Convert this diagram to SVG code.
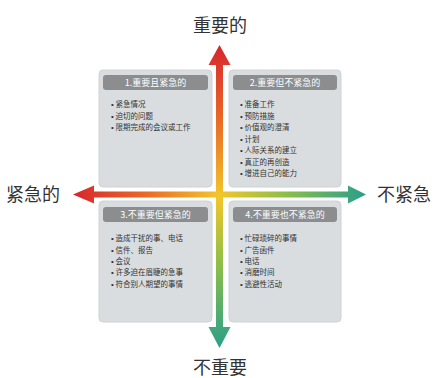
<svg xmlns="http://www.w3.org/2000/svg" width="435" height="378" viewBox="0 0 435 378">
<defs>
<linearGradient id="gv" gradientUnits="userSpaceOnUse" x1="0" y1="45" x2="0" y2="348">
<stop offset="0" stop-color="#d7262e"/>
<stop offset="0.25" stop-color="#ea6a26"/>
<stop offset="0.5" stop-color="#f2c62b"/>
<stop offset="0.72" stop-color="#8fbf47"/>
<stop offset="1" stop-color="#2a9f8a"/>
</linearGradient>
<linearGradient id="gh" gradientUnits="userSpaceOnUse" x1="73" y1="0" x2="365" y2="0">
<stop offset="0" stop-color="#d7262e"/>
<stop offset="0.25" stop-color="#ea6a26"/>
<stop offset="0.5" stop-color="#f2c62b"/>
<stop offset="0.72" stop-color="#8fbf47"/>
<stop offset="1" stop-color="#2a9f8a"/>
</linearGradient>
</defs>
<style>
.box{fill:#dadddf;stroke:#cfd2d4;stroke-width:1}
.hdr{fill:#8b8d8f}
.ht{font-family:"Noto Sans CJK SC","Noto Sans",sans-serif;font-size:9px;fill:#ffffff;text-anchor:middle}
.it{font-family:"Noto Sans CJK SC","Noto Sans",sans-serif;font-size:7.5px;fill:#333333}
.b{font-family:"Liberation Sans",sans-serif;font-size:8px;fill:#333333}
.ax{font-family:"Noto Sans CJK SC","Noto Sans",sans-serif;font-size:18px;fill:#333333}
</style>
<rect width="435" height="378" fill="#ffffff"/>
<g id="q1">
<rect class="box" x="99" y="70" width="113" height="117" rx="4"/>
<rect class="hdr" x="103" y="75" width="105" height="15" rx="3"/>
<text class="ht" x="155.5" y="86">1.重要且紧急的</text>
<text class="it" x="111" y="107"><tspan class="b">•</tspan> 紧急情况</text>
<text class="it" x="111" y="118.5"><tspan class="b">•</tspan> 迫切的问题</text>
<text class="it" x="111" y="130"><tspan class="b">•</tspan> 限期完成的会议或工作</text>
</g>
<g id="q2">
<rect class="box" x="229" y="70" width="112" height="117" rx="4"/>
<rect class="hdr" x="233" y="75" width="104" height="15" rx="3"/>
<text class="ht" x="285" y="86">2.重要但不紧急的</text>
<text class="it" x="240" y="107"><tspan class="b">•</tspan> 准备工作</text>
<text class="it" x="240" y="118.5"><tspan class="b">•</tspan> 预防措施</text>
<text class="it" x="240" y="130"><tspan class="b">•</tspan> 价值观的澄清</text>
<text class="it" x="240" y="141.5"><tspan class="b">•</tspan> 计划</text>
<text class="it" x="240" y="153"><tspan class="b">•</tspan> 人际关系的建立</text>
<text class="it" x="240" y="164.5"><tspan class="b">•</tspan> 真正的再创造</text>
<text class="it" x="240" y="176"><tspan class="b">•</tspan> 增进自己的能力</text>
</g>
<g id="q3">
<rect class="box" x="99" y="201" width="113" height="121" rx="4"/>
<rect class="hdr" x="103" y="207" width="105" height="15" rx="3"/>
<text class="ht" x="155.5" y="218">3.不重要但紧急的</text>
<text class="it" x="111" y="241"><tspan class="b">•</tspan> 造成干扰的事、电话</text>
<text class="it" x="111" y="252.5"><tspan class="b">•</tspan> 信件、报告</text>
<text class="it" x="111" y="264"><tspan class="b">•</tspan> 会议</text>
<text class="it" x="111" y="275"><tspan class="b">•</tspan> 许多迫在眉睫的急事</text>
<text class="it" x="111" y="286.5"><tspan class="b">•</tspan> 符合别人期望的事情</text>
</g>
<g id="q4">
<rect class="box" x="229" y="201" width="112" height="121" rx="4"/>
<rect class="hdr" x="233" y="207" width="104" height="15" rx="3"/>
<text class="ht" x="285" y="218">4.不重要也不紧急的</text>
<text class="it" x="240" y="241"><tspan class="b">•</tspan> 忙碌琐碎的事情</text>
<text class="it" x="240" y="252.5"><tspan class="b">•</tspan> 广告函件</text>
<text class="it" x="240" y="264"><tspan class="b">•</tspan> 电话</text>
<text class="it" x="240" y="275"><tspan class="b">•</tspan> 消磨时间</text>
<text class="it" x="240" y="286.5"><tspan class="b">•</tspan> 逃避性活动</text>
</g>
<g id="connectors">
<rect x="216" y="62" width="7" height="268" fill="url(#gv)"/>
<polygon points="219.5,45 230.5,65 208.5,65" fill="url(#gv)"/>
<polygon points="219.5,348 230.5,327 208.5,327" fill="url(#gv)"/>
<rect x="90" y="191.5" width="262" height="6" fill="url(#gh)"/>
<polygon points="73,194.5 94,185.5 94,203.5" fill="url(#gh)"/>
<polygon points="366,194.5 348,185.5 348,203.5" fill="url(#gh)"/>
</g>
<g id="labels">
<text class="ax" x="220" y="32" text-anchor="middle">重要的</text>
<text class="ax" x="220" y="374" text-anchor="middle">不重要</text>
<text class="ax" x="6" y="201">紧急的</text>
<text class="ax" x="377" y="201">不紧急</text>
</g>
</svg>
